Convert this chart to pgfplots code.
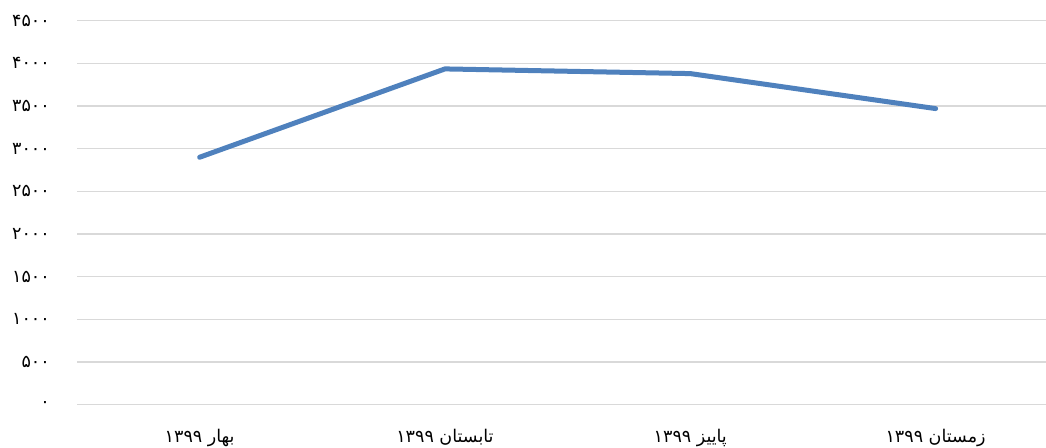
\documentclass[border=0pt]{standalone}
\usepackage{fontspec}
\usepackage{pgfplots}
\pgfplotsset{compat=1.18}
\TeXXeTstate=1
\newfontfamily\arabicfont[Script=Arabic]{DejaVu Sans}
\definecolor{lineblue}{RGB}{79,129,189}
\definecolor{gridgray}{RGB}{217,217,217}

\begin{document}
\begin{tikzpicture}
\path[use as bounding box] (0,0) rectangle (1046pt,447pt);
\begin{axis}[
  at={(77pt,42.3pt)}, anchor=south west,
  scale only axis, width=969pt, height=384pt,
  xmin=-0.5, xmax=3.45, ymin=0, ymax=4500,
  xtick={0,1,2,3},
  xticklabels={
    {\beginR بهار \beginL۱۳۹۹\endL\endR},
    {\beginR تابستان \beginL۱۳۹۹\endL\endR},
    {\beginR پاییز \beginL۱۳۹۹\endL\endR},
    {\beginR زمستان \beginL۱۳۹۹\endL\endR}},
  ytick={0,500,1000,1500,2000,2500,3000,3500,4000,4500},
  yticklabels={۰,۵۰۰,۱۰۰۰,۱۵۰۰,۲۰۰۰,۲۵۰۰,۳۰۰۰,۳۵۰۰,۴۰۰۰,۴۵۰۰},
  ymajorgrids, grid style={gridgray, line width=1.2pt},
  axis line style={draw=none}, major tick length=0pt,
  tick label style={font=\arabicfont\fontsize{17.5}{20}\selectfont, inner sep=0pt},
  yticklabel style={anchor=east, xshift=-27pt},
  xticklabel style={anchor=north, yshift=-24pt},
]
\addplot[lineblue, line width=5pt, line cap=round, line join=round] coordinates {
  (0,2900) (1,3935) (2,3880) (3,3470)
};
\end{axis}
\end{tikzpicture}
\end{document}
